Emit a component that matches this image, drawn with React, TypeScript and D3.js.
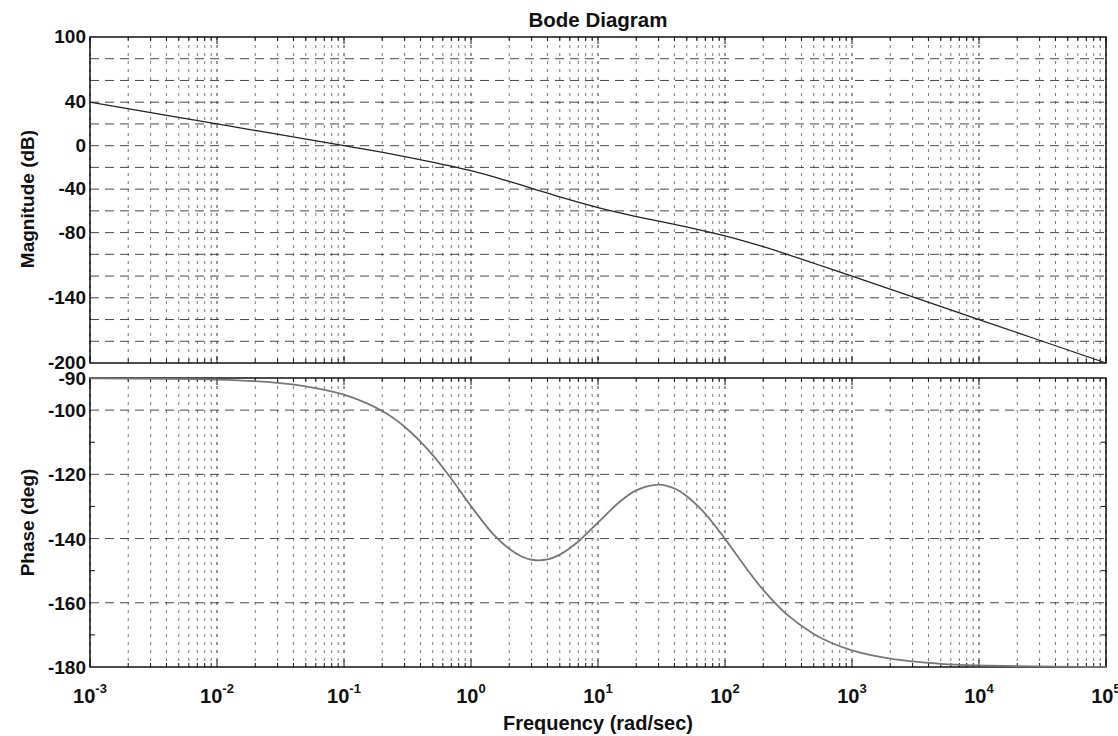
import React from "react";
import * as d3 from "d3";

// Frequency samples (rad/sec) and values
const magFreq = [0.001, 0.01, 0.1, 0.3, 1, 2, 3, 5, 10, 20, 30, 50, 100, 200, 500, 1000, 10000, 100000];
const magDb = [40, 20, 0, -10, -23, -32.9, -39.2, -47.2, -57, -65.2, -69.4, -74.8, -83, -93, -108.2, -120, -160, -200];

const phaseFreq = [0.001, 0.01, 0.03, 0.05, 0.1, 0.2, 0.3, 0.5, 0.7, 1, 1.5, 2, 2.5, 3, 4, 5, 7, 10, 15, 20, 30, 40, 50, 70, 100, 150, 200, 300, 500, 700, 1000, 2000, 5000, 10000, 100000];
const phaseDeg = [-90.1, -90.5, -91.5, -92.6, -95.2, -100.3, -105.2, -114, -121.4, -129.9, -138.7, -143.2, -145.6, -146.6, -146.5, -145, -140.9, -135, -128.4, -125, -123.2, -124.4, -126.8, -132.3, -140.1, -149.7, -156, -163.3, -169.7, -172.6, -174.8, -177.4, -179, -179.5, -180];

const magTickLabels = [100, 40, 0, -40, -80, -140, -200];
const magGrid = [80, 60, 40, 20, 0, -20, -40, -60, -80, -100, -120, -140, -160, -180];
const phaseTickLabels = [-90, -100, -120, -140, -160, -180];
const phaseGrid = [-100, -120, -140, -160];
const phaseMinor = [-110, -130, -150, -170];
const decadeExps = [-3, -2, -1, 0, 1, 2, 3, 4, 5];

const W = 1118;
const H = 736;
const L = 90;
const R = 1106;
const magTop = 37;
const magBottom = 363;
const phTop = 378;
const phBottom = 667;
const FONT = "'Liberation Sans', Arial, Helvetica, sans-serif";

export default function App() {
  const x = d3.scaleLog().domain([1e-3, 1e5]).range([L, R]);
  const yMag = d3.scaleLinear().domain([-200, 100]).range([magBottom, magTop]);
  const yPh = d3.scaleLinear().domain([-180, -90]).range([phBottom, phTop]);

  const allTicks: number[] = [];
  for (let e = -3; e < 5; e++) {
    for (let m = 1; m <= 9; m++) allTicks.push(m * Math.pow(10, e));
  }
  allTicks.push(1e5);
  const minorTicks = allTicks.filter((t) => Math.abs(Math.log10(t) - Math.round(Math.log10(t))) > 1e-9);
  const majorTicks = decadeExps.map((e) => Math.pow(10, e));

  const magLine = d3
    .line<number>()
    .x((_, i) => x(magFreq[i]))
    .y((d) => yMag(d))
    .curve(d3.curveCatmullRom.alpha(0.5));
  const phLine = d3
    .line<number>()
    .x((_, i) => x(phaseFreq[i]))
    .y((d) => yPh(d))
    .curve(d3.curveCatmullRom.alpha(0.5));

  const panel = (top: number, bottom: number, hGrid: number[], yS: (v: number) => number, key: string) => (
    <g key={key}>
      {minorTicks.map((t, i) => (
        <line key={"vm" + i} x1={x(t)} x2={x(t)} y1={top} y2={bottom} stroke="#5a5a5a" strokeWidth={1} strokeDasharray="3,5" opacity={0.8} />
      ))}
      {majorTicks.map((t, i) => (
        <line key={"vM" + i} x1={x(t)} x2={x(t)} y1={top} y2={bottom} stroke="#333" strokeWidth={1} strokeDasharray="3,5" />
      ))}
      {hGrid.map((v, i) => (
        <line key={"h" + i} x1={L} x2={R} y1={yS(v)} y2={yS(v)} stroke="#2a2a2a" strokeWidth={1} strokeDasharray="9,6" opacity={0.85} />
      ))}
      {allTicks.map((t, i) => {
        const major = majorTicks.some((m) => Math.abs(m - t) / t < 1e-9);
        const len = major ? 7 : 4;
        return (
          <g key={"t" + i}>
            <line x1={x(t)} x2={x(t)} y1={bottom} y2={bottom - len} stroke="#111" strokeWidth={1} />
            <line x1={x(t)} x2={x(t)} y1={top} y2={top + len} stroke="#111" strokeWidth={1} />
          </g>
        );
      })}
      <rect x={L} y={top} width={R - L} height={bottom - top} fill="none" stroke="#111" strokeWidth={1.5} />
    </g>
  );

  return (
    <svg width={W} height={H} style={{ display: "block", position: "absolute", left: 0, top: 0, background: "#fff" }}>
      <rect x={0} y={0} width={W} height={H} fill="#fff" />
      {panel(magTop, magBottom, magGrid, yMag, "mag")}
      {panel(phTop, phBottom, phaseGrid, yPh, "ph")}
      {phaseMinor.map((v, i) => (
        <g key={"pm" + i}>
          <line x1={L} x2={L + 5} y1={yPh(v)} y2={yPh(v)} stroke="#111" />
          <line x1={R} x2={R - 5} y1={yPh(v)} y2={yPh(v)} stroke="#111" />
        </g>
      ))}
      <path d={magLine(magDb) || ""} fill="none" stroke="#222" strokeWidth={1.3} />
      <path d={phLine(phaseDeg) || ""} fill="none" stroke="#777" strokeWidth={1.8} />

      <g fontFamily={FONT} fontWeight="bold" fill="#111">
        <text x={598} y={27} textAnchor="middle" fontSize={20.5}>
          Bode Diagram
        </text>
        {magTickLabels.map((v) => (
          <text key={"ml" + v} x={86} y={yMag(v) + 6} textAnchor="end" fontSize={19}>
            {v}
          </text>
        ))}
        {phaseTickLabels.map((v) => (
          <text key={"pl" + v} x={86} y={yPh(v) + 7} textAnchor="end" fontSize={19}>
            {v}
          </text>
        ))}
        {decadeExps.map((e) => (
          <text key={"xl" + e} x={x(Math.pow(10, e))} y={703} textAnchor="middle" fontSize={20}>
            10
            <tspan dy={-10} fontSize={13}>
              {e}
            </tspan>
          </text>
        ))}
        <text x={598} y={730} textAnchor="middle" fontSize={20}>
          Frequency  (rad/sec)
        </text>
        <text transform={`translate(34,${(magTop + magBottom) / 2 - 1}) rotate(-90)`} textAnchor="middle" fontSize={19}>
          Magnitude (dB)
        </text>
        <text transform={`translate(34,${(phTop + phBottom) / 2}) rotate(-90)`} textAnchor="middle" fontSize={19}>
          Phase (deg)
        </text>
      </g>
    </svg>
  );
}
